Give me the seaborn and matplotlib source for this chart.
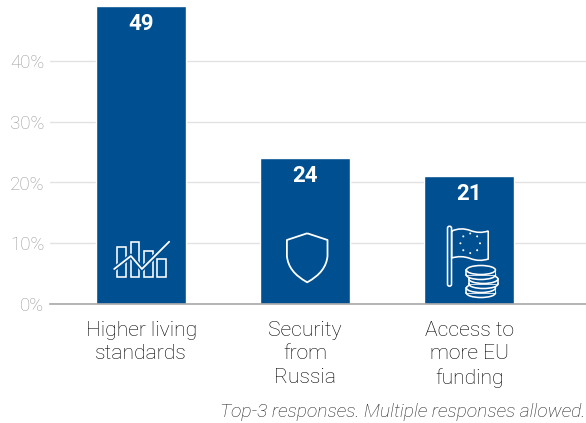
import numpy as np
import pandas as pd
import matplotlib
matplotlib.use("Agg")
import matplotlib.pyplot as plt
from matplotlib.patches import Ellipse, PathPatch, Rectangle, FancyBboxPatch
from matplotlib.path import Path
from matplotlib.transforms import Affine2D
import seaborn as sns

categories = ["Higher living\nstandards", "Security\nfrom\nRussia", "Access to\nmore EU\nfunding"]
shares = [49, 24, 21]
y_ticks = [0, 10, 20, 30, 40]
y_tick_labels = ["0%", "10%", "20%", "30%", "40%"]
caption = "Top-3 responses. Multiple responses allowed."

BLUE = "#004F91"
sns.set_theme(style="white")
plt.rcParams["font.family"] = ["Roboto", "DejaVu Sans"]

fig = plt.figure(figsize=(5.86, 4.23), dpi=100)
ax = fig.add_axes([50 / 586, 1 - 304 / 423, 536 / 586, 304 / 423])
df = pd.DataFrame({"category": categories, "share": shares})
sns.barplot(data=df, x="category", y="share", color=BLUE, saturation=1, width=0.55, ax=ax, zorder=3)

ax.set_xlim(-0.556, 2.712)
ax.set_ylim(0, 304 / 6.075)
ax.set_xlabel("")
ax.set_ylabel("")
ax.set_yticks(y_ticks, y_tick_labels, fontsize=13.5, fontweight="light", color="#9a9a9a")
ax.tick_params(axis="y", length=0, pad=4)
ax.tick_params(axis="x", length=0, pad=0)
ax.set_xticks(range(3), [""] * 3)
ax.grid(axis="y", color="#e2e2e2", linewidth=1.0, zorder=0)
ax.grid(axis="x", visible=False)
for name in ("top", "left", "right"):
    ax.spines[name].set_visible(False)
ax.spines["bottom"].set_color("#a8a8a8")
ax.spines["bottom"].set_linewidth(1.2)
ax.spines["bottom"].set_zorder(4)

# Category names sit on their own so the first line can be placed under the baseline
for i, name in enumerate(categories):
    ax.annotate(name, (i, 0), xytext=(0, -12), textcoords="offset points", ha="center", va="top",
                fontsize=15.2, fontweight="light", color="#000000", linespacing=1.3,
                annotation_clip=False)

for i, v in enumerate(shares):
    ax.annotate(str(v), (i, v), xytext=(0, -12.5), textcoords="offset points",
                ha="center", va="center", color="white", fontsize=16, fontweight="bold", zorder=5)

fig.text(585 / 586, 1 - 412 / 423, caption, ha="right", va="center", fontsize=13.9,
         style="italic", fontweight="light", color="#222222")


def icon_transform(i):
    """Pixel offsets (x right, y up) measured from the foot of bar i."""
    fig.canvas.draw()
    bx, by = ax.transData.transform((i, 0))
    return Affine2D().translate(bx, by)


def add(patch, tr, z=6):
    patch.set_transform(tr)
    patch.set_zorder(z)
    patch.set_clip_on(False)
    ax.add_artist(patch)


LW = 1.15

# Chart icon on the first bar
tr = icon_transform(0)
for x0, x1, top in [(-23.7, -15, 57.3), (-10.3, -1.7, 62.3), (3, 11.7, 53), (16.3, 25, 44.7)]:
    add(Rectangle((x0, 27.3), x1 - x0, top - 27.3, fc="none", ec="white", lw=LW), tr)
trend = [(-27, 35), (-10.3, 48), (0.7, 35), (28, 62.3)]
ax.plot(*zip(*trend), transform=tr, color=BLUE, lw=3.4, zorder=6.5, clip_on=False, scalex=False, scaley=False)
ax.plot(*zip(*trend), transform=tr, color="white", lw=1.3, zorder=7, clip_on=False, scalex=False, scaley=False)

# Shield icon on the second bar
tr = icon_transform(1)
shield = Path(
    [(2, 70.7), (-18.3, 64), (-18.3, 48), (-17, 32), (2, 21.7),
     (21, 32), (22.3, 48), (22.3, 64), (2, 70.7)],
    [Path.MOVETO, Path.LINETO, Path.LINETO, Path.CURVE3, Path.CURVE3,
     Path.CURVE3, Path.CURVE3, Path.LINETO, Path.LINETO],
)
add(PathPatch(shield, fc="none", ec="white", lw=1.3, joinstyle="round"), tr)

# Flag and coins icon on the third bar
tr = icon_transform(2)
add(FancyBboxPatch((-21.3, 18.3), 3.2, 59, boxstyle="round,pad=0.4,rounding_size=1.8",
                   fc="none", ec="white", lw=LW), tr)
flag = Path(
    [(-17.5, 73), (-8, 77), (1, 73.5), (10, 70), (19, 73), (19, 45),
     (10, 42), (1, 45.5), (-8, 49), (-17.5, 46), (-17.5, 73)],
    [Path.MOVETO, Path.CURVE3, Path.CURVE3, Path.CURVE3, Path.CURVE3, Path.LINETO,
     Path.CURVE3, Path.CURVE3, Path.CURVE3, Path.CURVE3, Path.LINETO],
)
add(PathPatch(flag, fc="none", ec="white", lw=LW), tr)
for a in np.arange(0, 360, 45):
    add(Ellipse((1 + 9.8 * np.cos(np.radians(a)), 60.7 + 9.8 * np.sin(np.radians(a))), 2.0, 2.0,
                fc="white", ec="none"), tr)
# Coins are stacked bottom-up so each one hides the rim of the one below
for k, (cx, cy) in enumerate([(11.7, 16), (14.2, 25), (11.7, 34)]):
    w, h, side = 29, 9, 5
    z = 7 + k * 0.1
    add(Ellipse((cx, cy - side), w, h, fc=BLUE, ec="white", lw=LW), tr, z)
    add(Rectangle((cx - w / 2, cy - side), w, side, fc=BLUE, ec="white", lw=LW), tr, z + 0.01)
    add(Rectangle((cx - w / 2 + 0.7, cy - side - 0.3), w - 1.4, side, fc=BLUE, ec="none"), tr, z + 0.02)
    add(Ellipse((cx, cy), w, h, fc=BLUE, ec="white", lw=LW), tr, z + 0.03)

fig.savefig("out.png", dpi=100)
